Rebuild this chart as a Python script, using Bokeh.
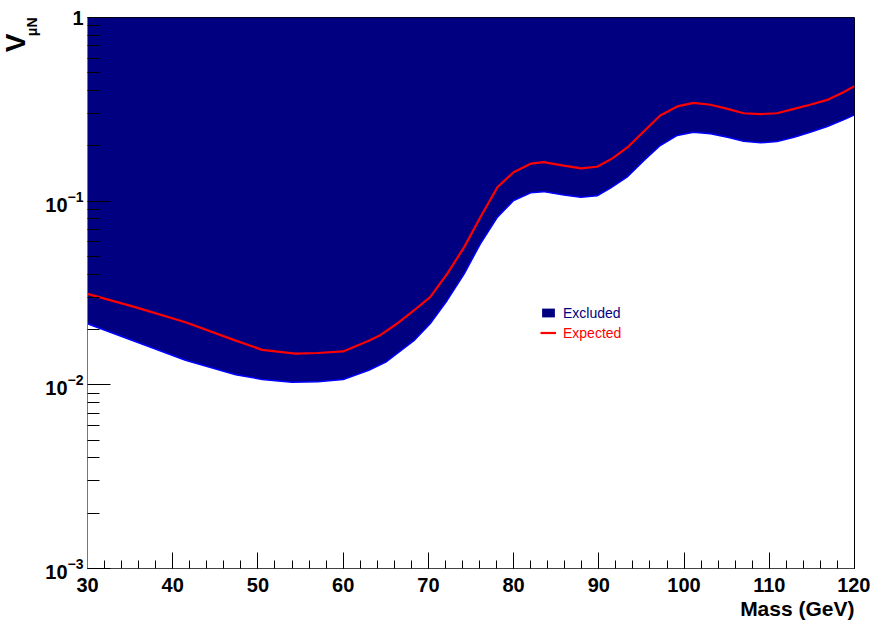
import numpy as np
from bokeh.plotting import figure
from bokeh.models import FixedTicker, Legend, LegendItem, Range1d, Title, LogTickFormatter
from bokeh.embed import file_html
from bokeh.resources import INLINE

# Observed exclusion boundary (lower edge of excluded region)
obs_mass = [30, 35.6, 41.5, 47.4, 50.5, 54, 57, 60, 63, 65, 66.3, 68.3, 70.2, 72.2,
            74.2, 76.1, 78.1, 80, 82, 83.5, 85.9, 87.9, 89.8, 91.4, 93.3, 95.3, 97.2,
            99.2, 101.1, 103.1, 105.1, 107, 109, 110.9, 112.9, 114.8, 116.8, 118.7, 120]
obs_limit = [0.0215, 0.0172, 0.0136, 0.01135, 0.0107, 0.01034, 0.0104, 0.0107, 0.0120,
             0.0133, 0.0148, 0.0174, 0.0215, 0.0288, 0.0402, 0.0586, 0.0818, 0.1008,
             0.111, 0.1127, 0.108, 0.105, 0.107, 0.118, 0.135, 0.1665, 0.201, 0.228,
             0.2375, 0.233, 0.223, 0.212, 0.208, 0.211, 0.223, 0.2375, 0.255, 0.277, 0.295]

# Expected limit
exp_mass = [30, 35.6, 41.5, 47.4, 50.5, 54.4, 57, 60, 63, 64.4, 66.3, 68.3, 70.2, 72.2,
            74.2, 76.1, 78.1, 80, 82, 83.5, 85.9, 87.9, 89.8, 91.6, 93.5, 95.3, 97.2,
            99.2, 101.1, 103.1, 105.1, 107, 109, 110.9, 112.9, 114.8, 116.8, 118.7, 120]
exp_limit = [0.0313, 0.0265, 0.0219, 0.0174, 0.0155, 0.0148, 0.0149, 0.0152, 0.0174,
             0.0187, 0.0215, 0.0254, 0.030, 0.0402, 0.0562, 0.0818, 0.119, 0.1438,
             0.160, 0.163, 0.156, 0.151, 0.154, 0.171, 0.199, 0.240, 0.293, 0.328,
             0.343, 0.335, 0.318, 0.301, 0.298, 0.301, 0.318, 0.335, 0.356, 0.392, 0.423]

x_ticks = [30, 40, 50, 60, 70, 80, 90, 100, 110, 120]
x_minor = list(range(30, 121, 2))
y_decades = [1e-3, 1e-2, 1e-1, 1.0]
y_minor = [m * 10.0 ** e for e in (-3, -2, -1) for m in range(2, 10)]

FONT = "Liberation Sans"

p = figure(width=870, height=624, x_range=Range1d(30, 120), y_range=Range1d(1e-3, 1),
           y_axis_type="log", output_backend="svg", toolbar_location=None,
           min_border_left=87, min_border_right=16, min_border_top=17, min_border_bottom=56)
p.grid.visible = False
p.outline_line_color = "black"
p.background_fill_color = "white"
p.border_fill_color = "white"

r_exc = p.varea(x=obs_mass, y1=obs_limit, y2=1.0, fill_color="#000080")
p.line(obs_mass, obs_limit, line_color="#0000ff", line_width=1.5)
r_exp = p.line(exp_mass, exp_limit, line_color="#ff0000", line_width=2.2)

# x axis
p.xaxis.ticker = FixedTicker(ticks=x_ticks, minor_ticks=x_minor)
p.xaxis.major_tick_in = 16
p.xaxis.major_tick_out = 0
p.xaxis.minor_tick_in = 8
p.xaxis.minor_tick_out = 0
p.xaxis.major_label_text_font = FONT
p.xaxis.major_label_text_font_style = "bold"
p.xaxis.major_label_text_font_size = "20px"
p.xaxis.major_label_text_color = "black"
p.xaxis.major_label_standoff = 9
p.xaxis.axis_line_color = "#444444"
p.xaxis.major_tick_line_color = "black"
p.xaxis.minor_tick_line_color = "black"

# y axis (log, 10^n labels)
p.yaxis.ticker = FixedTicker(ticks=y_decades, minor_ticks=y_minor)
p.yaxis.formatter = LogTickFormatter()
p.yaxis.major_label_overrides = {1: "1"}
p.yaxis.major_tick_in = 23
p.yaxis.major_tick_out = 0
p.yaxis.minor_tick_in = 12
p.yaxis.minor_tick_out = 0
p.yaxis.major_label_text_font = FONT
p.yaxis.major_label_text_font_style = "bold"
p.yaxis.major_label_text_font_size = "20px"
p.yaxis.major_label_text_color = "black"
p.yaxis.major_label_standoff = 4
p.yaxis.axis_line_color = "#777777"
p.yaxis.major_tick_line_color = "black"
p.yaxis.minor_tick_line_color = "black"

# axis titles
p.add_layout(Title(text="Mass (GeV)", align="right", text_font=FONT, text_font_style="bold",
                   text_font_size="21px", text_color="black", standoff=0), "below")
p.add_layout(Title(text="μN", align="right", offset=0, text_font=FONT, text_font_style="bold",
                   text_font_size="14px", text_color="black", standoff=6), "left")
p.add_layout(Title(text="V", align="right", offset=16, text_font=FONT, text_font_style="bold",
                   text_font_size="28px", text_color="black", standoff=-24), "left")

# legends
def make_legend(label, renderer, color, loc):
    lg = Legend(items=[LegendItem(label=label, renderers=[renderer])], location=loc,
                border_line_color=None, background_fill_alpha=0, padding=0, margin=0,
                glyph_width=16, glyph_height=11, label_standoff=7, label_height=20,
                label_text_font=FONT, label_text_font_size="14px", label_text_color=color)
    return lg

p.add_layout(make_legend("Excluded", r_exc, "#000080", (453, 245.5)))
p.add_layout(make_legend("Expected", r_exp, "#ff0000", (453, 225.5)))

open("out.html", "w").write(file_html(p, INLINE))
